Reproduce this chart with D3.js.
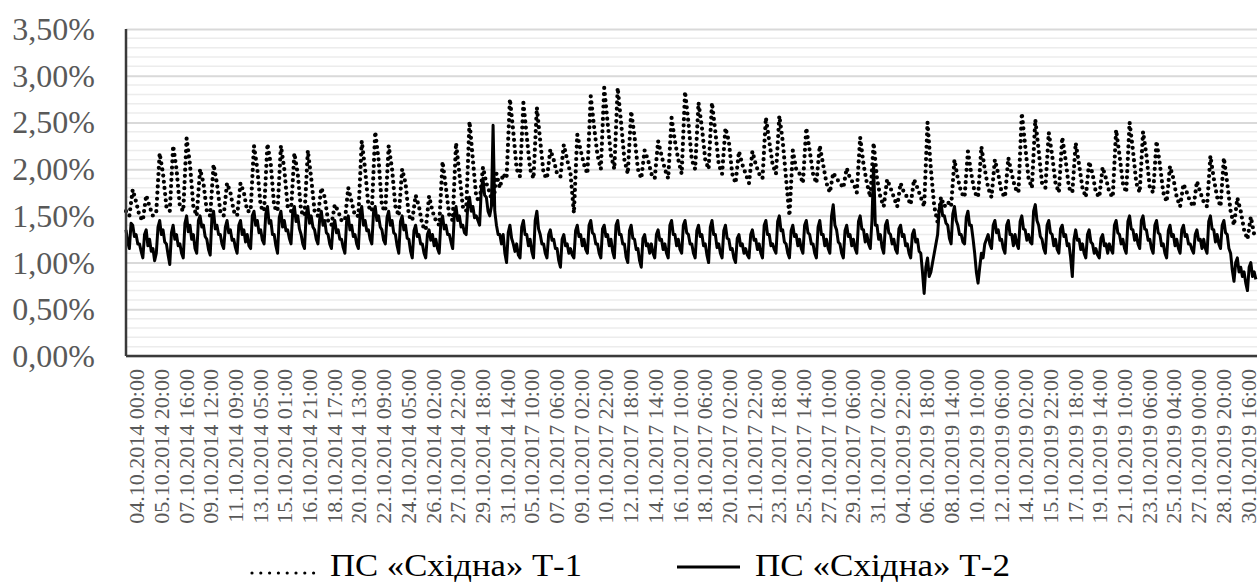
<!DOCTYPE html>
<html>
<head>
<meta charset="utf-8">
<script src="https://cdn.jsdelivr.net/npm/d3@7"></script>
<style>
  body { margin: 0; background: #fff; }
  svg { display: block; }
</style>
</head>
<body>
<svg id="chart" width="1260" height="585"></svg>
<script>
// Three October periods of hourly readings, 28 days (672 hourly categories) each
const periods = ["2014", "2017", "2019"];
const hoursPerPeriod = 672;
const stepT1 = 6;   // T-1 sampled at 00, 06, 12, 18
const stepT2 = 3;   // T-2 sampled every 3 hours

// X-axis labels, one every 44 hourly categories
const tickLabels = [
  "04.10.2014 00:00","05.10.2014 20:00","07.10.2014 16:00","09.10.2014 12:00","11.10.2014 09:00",
  "13.10.2014 05:00","15.10.2014 01:00","16.10.2014 21:00","18.10.2014 17:00","20.10.2014 13:00",
  "22.10.2014 09:00","24.10.2014 05:00","26.10.2014 02:00","27.10.2014 22:00","29.10.2014 18:00",
  "31.10.2014 14:00","05.10.2017 10:00","07.10.2017 06:00","09.10.2017 02:00","10.10.2017 22:00",
  "12.10.2017 18:00","14.10.2017 14:00","16.10.2017 10:00","18.10.2017 06:00","20.10.2017 02:00",
  "21.10.2017 22:00","23.10.2017 18:00","25.10.2017 14:00","27.10.2017 10:00","29.10.2017 06:00",
  "31.10.2017 02:00","04.10.2019 22:00","06.10.2019 18:00","08.10.2019 14:00","10.10.2019 10:00",
  "12.10.2019 06:00","14.10.2019 02:00","15.10.2019 22:00","17.10.2019 18:00","19.10.2019 14:00",
  "21.10.2019 10:00","23.10.2019 06:00","25.10.2019 04:00","27.10.2019 00:00","28.10.2019 20:00",
  "30.10.2019 16:00"
];
const tickEvery = 44;

const yTicks = [0, 0.5, 1, 1.5, 2, 2.5, 3, 3.5];

const seriesNames = ["ПС «Східна» Т-1", "ПС «Східна» Т-2"];

// Losses, % — transformer T-1 (one row of four values per day)
const t1_2014 = [
  1.55,1.50,1.78,1.65, 1.50,1.45,1.72,1.60, 1.50,1.55,2.17,1.95, 1.60,1.55,2.25,2.00,
  1.60,1.55,2.33,2.05, 1.60,1.50,2.00,1.85, 1.55,1.50,2.05,1.85, 1.55,1.50,1.85,1.75,
  1.55,1.50,1.85,1.75, 1.55,1.55,2.25,2.00, 1.60,1.55,2.27,2.05, 1.60,1.55,2.25,2.00,
  1.60,1.55,2.17,1.95, 1.55,1.50,2.20,1.90, 1.55,1.50,1.80,1.70, 1.45,1.40,1.62,1.55,
  1.45,1.45,1.80,1.65, 1.50,1.50,2.30,2.00, 1.60,1.55,2.40,2.10, 1.60,1.55,2.25,2.00,
  1.60,1.50,2.00,1.85, 1.50,1.45,1.72,1.60, 1.40,1.35,1.71,1.55, 1.45,1.40,2.08,1.80,
  1.50,1.45,2.28,1.95, 1.60,1.55,2.51,2.10, 1.70,1.65,2.02,1.85, 1.75,1.60,1.95,1.80
];
const t1_2017 = [
  1.95,1.90,2.75,2.40, 2.00,1.92,2.71,2.35, 2.00,1.90,2.66,2.30, 1.95,1.90,2.21,2.10,
  1.95,1.92,2.26,2.10, 1.95,1.53,2.37,2.20, 2.05,1.95,2.78,2.45, 2.15,2.00,2.87,2.50,
  2.15,2.00,2.87,2.50, 2.10,1.95,2.62,2.35, 2.00,1.90,2.20,2.10, 1.95,1.90,2.30,2.15,
  2.00,1.90,2.55,2.30, 2.10,1.95,2.83,2.50, 2.10,2.00,2.71,2.45, 2.10,2.00,2.71,2.40,
  2.05,1.95,2.44,2.30, 1.95,1.85,2.19,2.05, 1.95,1.85,2.19,2.05, 1.95,1.90,2.55,2.30,
  2.05,1.95,2.57,2.30, 1.90,1.50,2.20,2.00, 1.95,1.85,2.44,2.20, 1.95,1.85,2.25,2.05,
  1.85,1.75,1.96,1.90, 1.85,1.80,2.01,1.90, 1.85,1.75,2.34,2.05, 1.85,1.70,2.28,1.90
];
const t1_2019 = [
  1.70,1.60,1.89,1.80, 1.70,1.60,1.85,1.75, 1.70,1.62,1.89,1.80, 1.70,1.60,2.50,2.00,
  1.60,1.43,1.70,1.60, 1.65,1.60,2.10,1.90, 1.75,1.70,2.19,1.95, 1.75,1.70,2.24,2.00,
  1.80,1.70,2.10,1.95, 1.75,1.70,2.12,1.95, 1.80,1.75,2.60,2.25, 1.90,1.80,2.53,2.20,
  1.85,1.80,2.39,2.15, 1.85,1.75,2.34,2.10, 1.80,1.75,2.28,2.05, 1.80,1.70,2.08,1.95,
  1.75,1.70,2.02,1.90, 1.75,1.70,2.42,2.15, 1.85,1.75,2.50,2.20, 1.85,1.75,2.40,2.15,
  1.80,1.75,2.30,2.05, 1.75,1.65,2.03,1.90, 1.70,1.60,1.84,1.75, 1.65,1.60,1.87,1.75,
  1.65,1.60,2.14,1.90, 1.70,1.60,2.12,1.85, 1.55,1.40,1.69,1.55, 1.35,1.25,1.49,1.30
];

// Losses, % — transformer T-2 (one row of eight values per day)
const t2_2014 = [
  1.35,1.22,1.15,1.42,1.40,1.28,1.30,1.20, 1.20,1.12,1.05,1.30,1.35,1.18,1.25,1.12,
  1.15,1.02,1.10,1.38,1.45,1.30,1.35,1.22, 1.20,1.08,0.98,1.32,1.40,1.25,1.30,1.18,
  1.20,1.10,1.05,1.42,1.50,1.33,1.40,1.25, 1.30,1.15,1.10,1.45,1.50,1.38,1.40,1.28,
  1.25,1.14,1.08,1.48,1.55,1.36,1.40,1.30, 1.30,1.20,1.15,1.38,1.45,1.32,1.35,1.24,
  1.25,1.16,1.10,1.40,1.45,1.30,1.35,1.22, 1.30,1.18,1.15,1.50,1.55,1.40,1.45,1.32,
  1.35,1.24,1.20,1.52,1.60,1.42,1.45,1.30, 1.30,1.18,1.10,1.48,1.55,1.38,1.45,1.34,
  1.35,1.26,1.20,1.54,1.60,1.44,1.50,1.36, 1.30,1.20,1.15,1.52,1.60,1.42,1.50,1.38,
  1.35,1.25,1.20,1.46,1.55,1.40,1.45,1.32, 1.30,1.20,1.15,1.40,1.45,1.32,1.35,1.25,
  1.25,1.16,1.10,1.44,1.50,1.35,1.40,1.28, 1.30,1.20,1.15,1.52,1.60,1.40,1.45,1.34,
  1.35,1.25,1.20,1.54,1.60,1.45,1.50,1.38, 1.35,1.24,1.20,1.48,1.55,1.40,1.45,1.32,
  1.30,1.18,1.10,1.44,1.50,1.35,1.40,1.26, 1.25,1.12,1.05,1.34,1.40,1.28,1.30,1.20,
  1.20,1.10,1.05,1.30,1.35,1.24,1.30,1.18, 1.25,1.15,1.10,1.44,1.50,1.36,1.40,1.30,
  1.30,1.22,1.15,1.52,1.60,1.45,1.50,1.38, 1.40,1.32,1.30,1.62,1.70,1.55,1.60,1.48,
  1.50,1.45,1.40,1.78,1.90,1.72,1.70,1.55, 1.50,1.60,2.47,1.55,1.40,1.30,1.30,1.20
];
const t2_2017 = [
  1.30,1.10,1.00,1.32,1.40,1.26,1.20,1.12, 1.20,1.08,1.05,1.38,1.45,1.30,1.30,1.18,
  1.25,1.12,1.05,1.45,1.55,1.36,1.30,1.20, 1.20,1.10,1.05,1.30,1.35,1.24,1.25,1.15,
  1.15,1.02,0.95,1.25,1.30,1.18,1.20,1.10, 1.15,1.08,1.05,1.34,1.40,1.28,1.30,1.18,
  1.25,1.14,1.10,1.40,1.45,1.32,1.30,1.20, 1.20,1.10,1.05,1.36,1.40,1.28,1.30,1.18,
  1.25,1.12,1.05,1.40,1.45,1.30,1.30,1.20, 1.20,1.06,1.00,1.34,1.40,1.26,1.25,1.14,
  1.15,1.02,0.95,1.26,1.30,1.18,1.20,1.10, 1.20,1.10,1.05,1.30,1.35,1.24,1.25,1.14,
  1.20,1.10,1.05,1.40,1.45,1.30,1.30,1.18, 1.25,1.14,1.10,1.40,1.45,1.32,1.30,1.20,
  1.20,1.10,1.05,1.34,1.40,1.28,1.30,1.18, 1.20,1.08,1.00,1.38,1.45,1.30,1.30,1.16,
  1.20,1.10,1.05,1.34,1.40,1.26,1.25,1.14, 1.15,1.05,1.00,1.26,1.30,1.18,1.20,1.10,
  1.15,1.08,1.05,1.30,1.35,1.24,1.25,1.14, 1.20,1.10,1.05,1.40,1.45,1.30,1.30,1.18,
  1.20,1.14,1.10,1.44,1.50,1.34,1.35,1.22, 1.20,1.10,1.05,1.34,1.40,1.28,1.30,1.18,
  1.25,1.15,1.10,1.40,1.45,1.32,1.30,1.20, 1.20,1.10,1.05,1.38,1.45,1.30,1.30,1.18,
  1.25,1.15,1.10,1.50,1.62,1.40,1.35,1.22, 1.20,1.10,1.05,1.34,1.40,1.28,1.30,1.18,
  1.25,1.15,1.10,1.44,1.50,1.36,1.35,1.22, 1.30,1.20,1.15,1.45,2.05,1.40,1.40,1.25
];
const t2_2019 = [
  1.30,1.16,1.10,1.40,1.45,1.32,1.30,1.20, 1.25,1.14,1.10,1.36,1.40,1.28,1.30,1.18,
  1.20,1.10,1.05,1.30,1.35,1.22,1.25,1.12, 1.10,0.90,0.67,0.95,1.05,0.85,0.90,1.00,
  1.10,1.20,1.30,1.58,1.65,1.50,1.50,1.42, 1.40,1.26,1.20,1.52,1.60,1.45,1.40,1.30,
  1.30,1.22,1.20,1.48,1.55,1.40,1.40,1.26, 1.10,0.90,0.78,0.95,1.10,1.05,1.20,1.25,
  1.30,1.20,1.15,1.40,1.45,1.32,1.35,1.24, 1.25,1.15,1.10,1.40,1.45,1.30,1.30,1.18,
  1.30,1.20,1.15,1.44,1.50,1.36,1.35,1.24, 1.30,1.22,1.20,1.55,1.62,1.45,1.40,1.28,
  1.25,1.15,1.10,1.40,1.45,1.32,1.30,1.18, 1.25,1.14,1.10,1.36,1.40,1.28,1.30,1.18,
  1.20,1.05,0.85,1.25,1.35,1.24,1.25,1.14, 1.20,1.10,1.05,1.30,1.35,1.22,1.20,1.10,
  1.15,1.08,1.05,1.26,1.30,1.18,1.20,1.10, 1.20,1.14,1.10,1.40,1.45,1.32,1.30,1.20,
  1.25,1.15,1.10,1.44,1.50,1.36,1.35,1.24, 1.30,1.20,1.15,1.45,1.50,1.36,1.35,1.24,
  1.25,1.15,1.10,1.40,1.45,1.32,1.30,1.18, 1.20,1.10,1.05,1.34,1.40,1.28,1.30,1.18,
  1.25,1.15,1.10,1.35,1.40,1.28,1.30,1.20, 1.20,1.14,1.10,1.30,1.35,1.24,1.25,1.15,
  1.25,1.15,1.10,1.44,1.50,1.36,1.35,1.22, 1.30,1.20,1.15,1.40,1.45,1.32,1.30,1.15,
  1.10,0.92,0.80,1.00,1.05,0.90,0.95,0.85, 0.90,0.78,0.70,0.95,1.00,0.85,0.90,0.82
];

// Join the three periods into one sequence positioned on the hourly category axis
function buildSeries(parts, step) {
  const pts = [];
  parts.forEach((arr, p) => {
    arr.forEach((v, j) => pts.push({ hour: p * hoursPerPeriod + j * step, value: v }));
  });
  return pts;
}
const seriesT1 = buildSeries([t1_2014, t1_2017, t1_2019], stepT1);
const seriesT2 = buildSeries([t2_2014, t2_2017, t2_2019], stepT2);

const svg = d3.select("#chart");
const margin = { left: 126, right: 3, top: 29, bottom: 229 };
const W = 1260, H = 585;

const x = d3.scaleLinear()
  .domain([0, periods.length * hoursPerPeriod - 1])
  .range([margin.left, W - margin.right]);
const y = d3.scaleLinear()
  .domain([0, 3.5])
  .range([H - margin.bottom, margin.top]);

const fmtPct = v => v.toFixed(2).replace(".", ",") + "%";

// Minor gridlines every 0.1 %
const minor = d3.range(0, 36).map(i => i / 10).filter(v => Math.round(v * 10) % 5 !== 0);
svg.append("g").selectAll("line").data(minor).join("line")
  .attr("x1", margin.left).attr("x2", W - margin.right)
  .attr("y1", d => y(d)).attr("y2", d => y(d))
  .attr("stroke", "#ececec").attr("stroke-width", 1.5);

// Major gridlines with labels
const yAxis = d3.axisLeft(y).tickValues(yTicks).tickFormat(fmtPct)
  .tickSize(-(W - margin.left - margin.right)).tickPadding(31);
const gy = svg.append("g").attr("transform", `translate(${margin.left},0)`).call(yAxis);
gy.select(".domain").remove();
gy.selectAll(".tick line").attr("stroke", "#d9d9d9").attr("stroke-width", 2);
gy.selectAll(".tick text")
  .attr("font-family", "'Liberation Serif', 'Times New Roman', serif")
  .attr("font-size", 32).attr("fill", "#595959").attr("dy", "0.33em");

// X axis labels, rotated
const tickHours = tickLabels.map((_, i) => i * tickEvery);
const xAxis = d3.axisBottom(x).tickValues(tickHours)
  .tickFormat((d, i) => tickLabels[i]).tickSize(0).tickPadding(0);
const gx = svg.append("g").attr("transform", `translate(0,${H - margin.bottom})`).call(xAxis);
gx.select(".domain").remove();
gx.selectAll(".tick text")
  .attr("font-family", "'Liberation Serif', 'Times New Roman', serif")
  .attr("font-size", 22).attr("fill", "#595959")
  .attr("text-anchor", "end")
  .attr("transform", "translate(10,13) rotate(-90)")
  .attr("x", 0).attr("y", 0).attr("dy", "0.35em");

// Series lines
const line = d3.line().x(d => x(d.hour)).y(d => y(d.value));
svg.append("path").datum(seriesT1)
  .attr("d", line).attr("fill", "none")
  .attr("stroke", "#000").attr("stroke-width", 4.2)
  .attr("stroke-linecap", "round").attr("stroke-linejoin", "round")
  .attr("stroke-dasharray", "0 6.2");
svg.append("path").datum(seriesT2)
  .attr("d", line).attr("fill", "none")
  .attr("stroke", "#000").attr("stroke-width", 3)
  .attr("stroke-linejoin", "round");

// Axis lines
svg.append("line")
  .attr("x1", margin.left).attr("x2", margin.left)
  .attr("y1", margin.top).attr("y2", H - margin.bottom)
  .attr("stroke", "#3a3a3a").attr("stroke-width", 2.5);
svg.append("line")
  .attr("x1", margin.left).attr("x2", W - margin.right)
  .attr("y1", H - margin.bottom).attr("y2", H - margin.bottom)
  .attr("stroke", "#3a3a3a").attr("stroke-width", 2.5);

// Legend
const legend = svg.append("g")
  .attr("font-family", "'Liberation Serif', 'Times New Roman', serif")
  .attr("font-size", 32).attr("fill", "#000");
const legendBase = 576;
legend.append("line")
  .attr("x1", 252).attr("x2", 314).attr("y1", legendBase - 3).attr("y2", legendBase - 3)
  .attr("stroke", "#000").attr("stroke-width", 3.2)
  .attr("stroke-linecap", "round").attr("stroke-dasharray", "0 8.8");
legend.append("text").attr("x", 330).attr("y", legendBase)
  .attr("textLength", 252).attr("lengthAdjust", "spacingAndGlyphs").text(seriesNames[0]);
legend.append("line")
  .attr("x1", 677).attr("x2", 740).attr("y1", legendBase - 9).attr("y2", legendBase - 9)
  .attr("stroke", "#000").attr("stroke-width", 2.8);
legend.append("text").attr("x", 755).attr("y", legendBase)
  .attr("textLength", 255).attr("lengthAdjust", "spacingAndGlyphs").text(seriesNames[1]);
</script>
</body>
</html>
